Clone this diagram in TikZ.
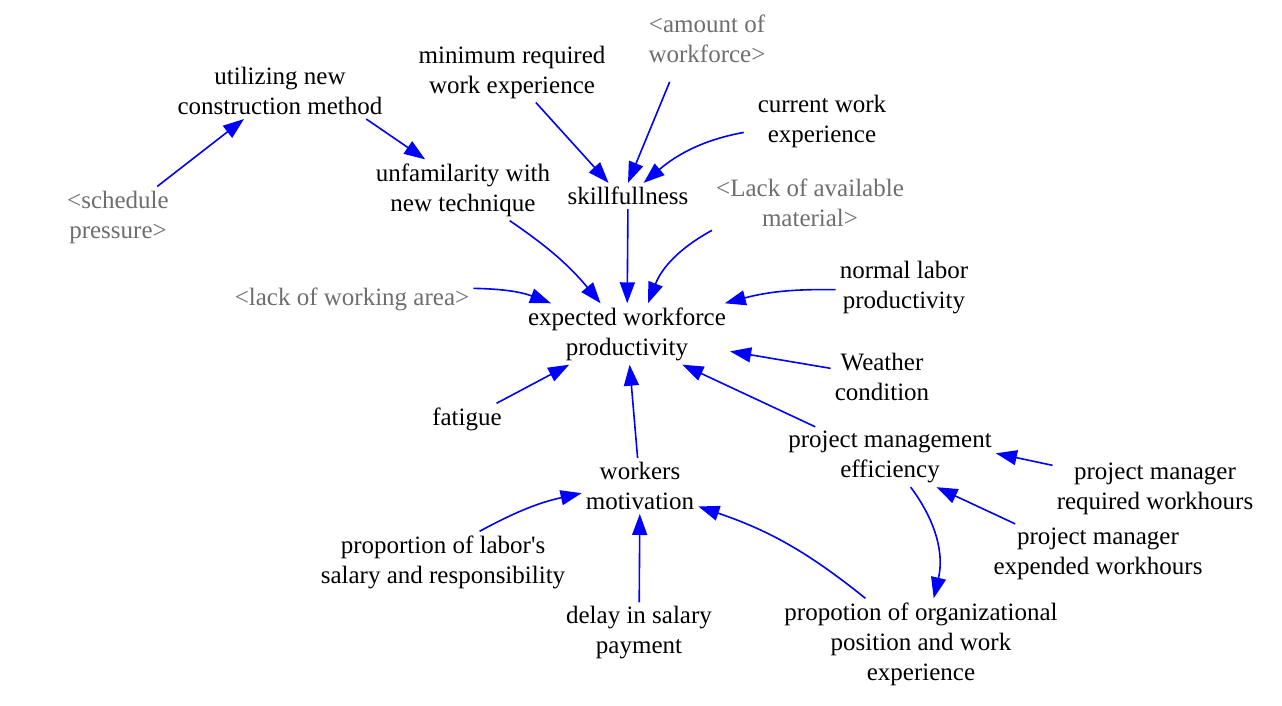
\documentclass[tikz,border=0pt]{standalone}
\usepackage{fontspec}
\setmainfont{Liberation Serif}
\usetikzlibrary{arrows.meta}
\definecolor{linkblue}{RGB}{0,0,255}
\definecolor{shadowgray}{RGB}{110,110,110}
\begin{document}
\begin{tikzpicture}[x=1pt,y=1pt,
	var/.style={align=center,inner sep=4pt,font=\fontsize{25}{30}\selectfont},
	shadow/.style={var,text=shadowgray},
	link/.style={draw=linkblue,line width=1.6pt,-{Triangle[length=21pt,width=15pt]}}]
	\useasboundingbox (0,0) rectangle (1282,706);
	\node[var] (util) at (280,615) {utilizing new\\construction method};
	\node[shadow] (sched) at (118,489) {<schedule\\pressure>};
	\node[var] (unfam) at (463,516) {unfamilarity with\\new technique};
	\draw[link] (sched) -- (util);
	\draw[link] (util.-18) -- (unfam.141);
	
	\node[var] (minreq) at (512,634) {minimum required\\work experience};
	\node[shadow] (amount) at (707,667) {<amount of\\workforce>};
	\node[var] (curwork) at (822,585) {current work\\experience};
	\node[var] (skill) at (628,510) {skillfullness};
	\draw[link] (minreq.-52) -- (skill.146);
	\draw[link,shorten <=16pt] (amount.-138) -- (skill.north);
	\draw[link,shorten <=10pt] (curwork.188) to[bend right=15] (skill.40);
	
	\node[var] (expected) at (627,372) {expected workforce\\productivity};
	\node[shadow] (lackmat) at (810,503) {<Lack of available\\material>};
	\node[shadow] (lackarea) at (352,407) {<lack of working area>};
	\node[var] (normal) at (904,418) {normal labor\\productivity};
	\node[var] (weather) at (882,329) {Weather\\condition};
	\node[var] (fatigue) at (467,287) {fatigue};
	\draw[link] (unfam) to[bend left=8] (expected);
	\draw[link] (skill) -- (expected);
	\draw[link] (lackmat) to[bend right=20] (expected);
	\draw[link] (lackarea.5) to[bend left=10] (expected.158);
	\draw[link] (normal) to[bend right=8] (expected);
	\draw[link] (weather) -- (expected);
	\draw[link] (fatigue) -- (expected);
	
	\node[var] (pme) at (890,249) {project management\\efficiency};
	\node[var] (pmreq) at (1155,217) {project manager\\required workhours};
	\node[var] (pmexp) at (1098,152) {project manager\\expended workhours};
	\node[var] (propon) at (921,62) {propotion of organizational\\position and work\\experience};
	\draw[link] (pme.158) -- (expected.-29);
	\draw[link] (pmreq.167) -- (pme.2);
	\draw[link] (pmexp.160) -- (pme.-33);
	\draw[link] (pme) to[bend left=25] (propon);
	
	\node[var] (motiv) at (640,220) {workers\\motivation};
	\node[var] (salary) at (443,144) {proportion of labor\textquotesingle s\\salary and responsibility};
	\node[var] (delay) at (639,73) {delay in salary\\payment};
	\draw[link] (motiv) -- (expected);
	\draw[link] (salary.40) to[bend left=8] (motiv.187);
	\draw[link] (delay) -- (motiv);
	\draw[link] (propon) to[bend right=10] (motiv);
\end{tikzpicture}
\end{document}
